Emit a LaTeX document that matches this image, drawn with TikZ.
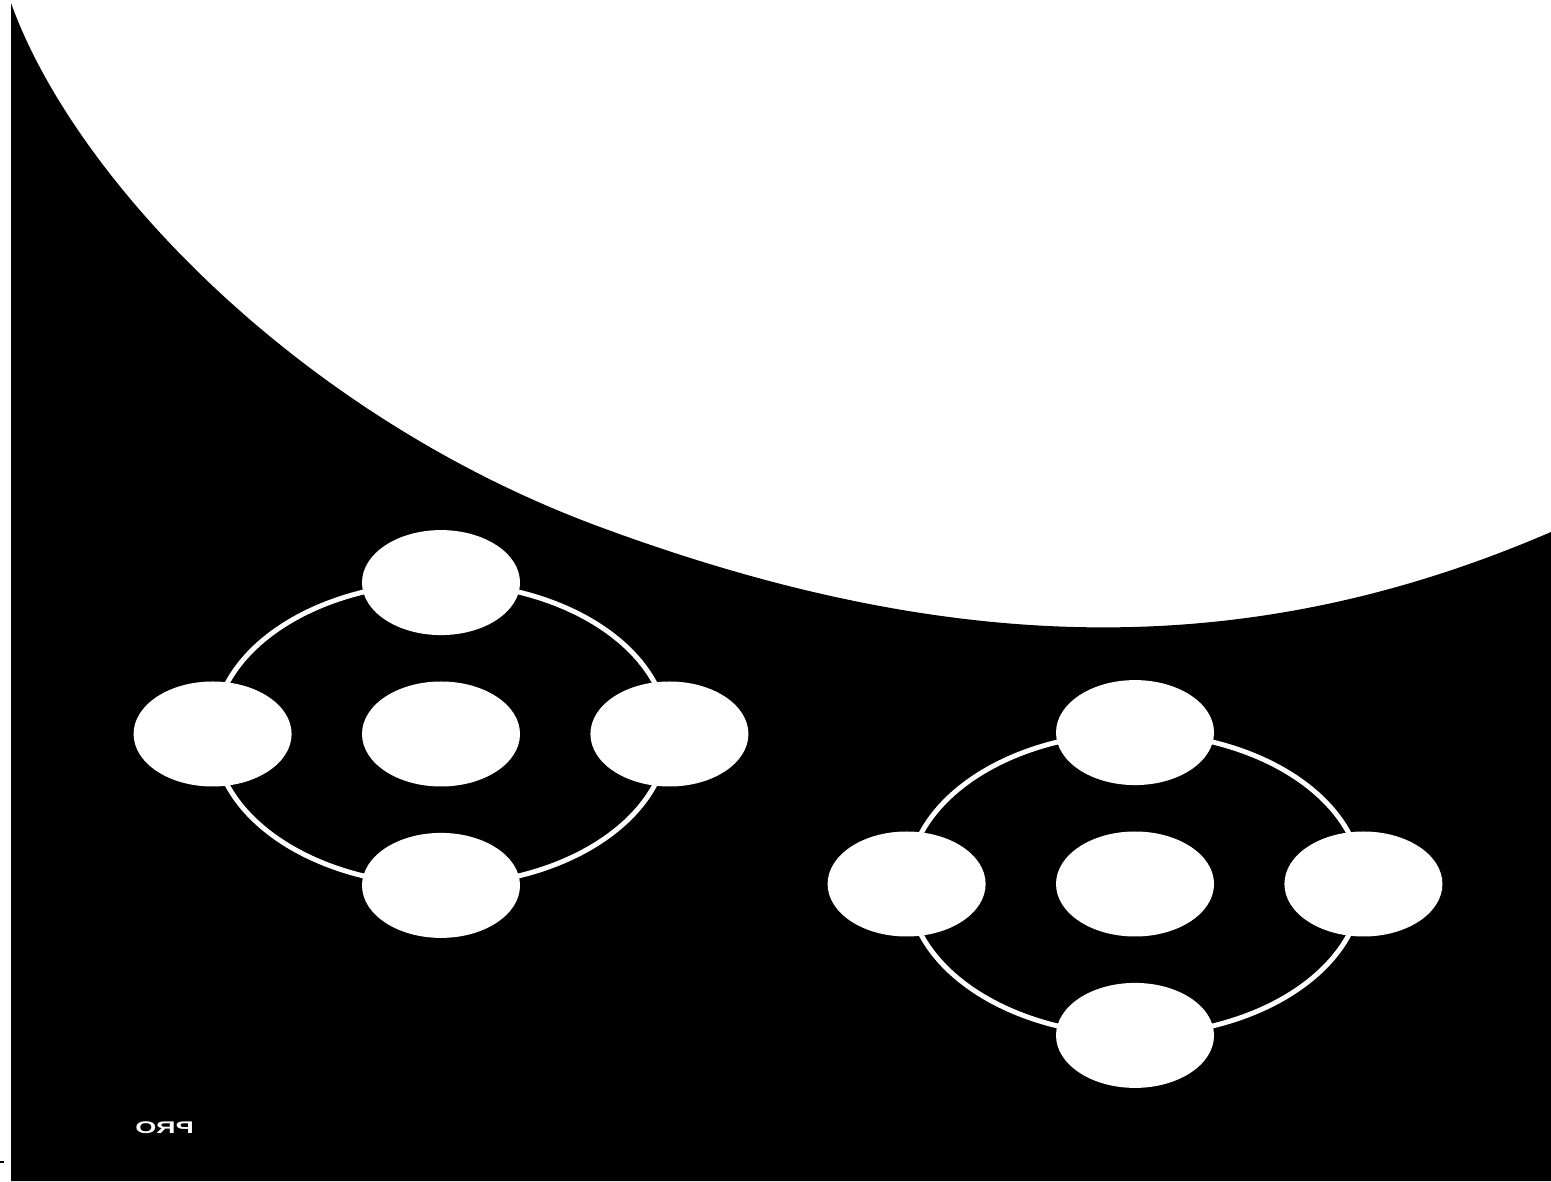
\documentclass[tikz,border=0pt]{standalone}
\usepackage{fontspec}
\newfontfamily\badgefont{Liberation Sans}
\usetikzlibrary{shapes,positioning}

\begin{document}
\begin{tikzpicture}[
    pod/.style={ellipse,fill=white,minimum width=1.58cm,minimum height=1.05cm,inner sep=0pt},
    ring/.style={draw=white,line width=1.4pt},
    node distance=0.45cm and 0.69cm]
    \useasboundingbox (0,0) rectangle (15.51,11.81);
    % dark backdrop with the curved edge
    \fill[black] (0.11,0) -- (0.11,11.78)
        .. controls (0.74,10.02) and (2.99,7.65) .. (6.00,6.54)
        .. controls (9.57,5.22) and (12.52,5.20) .. (15.51,6.49)
        -- (15.51,0) -- cycle;
    \draw[black,line width=0.3pt] (0,0.19) -- (0.04,0.19);
    % left group
    \node[pod] (lc) at (4.41,4.47) {};
    \draw[ring] (lc.center) ellipse [x radius=2.27cm,y radius=1.51cm];
    \node[pod,above=of lc] (lt) {};
    \node[pod,below=of lc] (lb) {};
    \node[pod,left=of lc] (ll) {};
    \node[pod,right=of lc] (lr) {};
    % right group
    \node[pod] (rc) at (11.35,2.97) {};
    \draw[ring] (rc.center) ellipse [x radius=2.27cm,y radius=1.51cm];
    \node[pod,above=of rc] (rt) {};
    \node[pod,below=of rc] (rb) {};
    \node[pod,left=of rc] (rl) {};
    \node[pod,right=of rc] (rr) {};
    \node[text=white,font=\badgefont\fontsize{4.8}{5}\selectfont\bfseries,inner sep=0pt] (badge) at (1.645,0.535) {\scalebox{-1.6}[1]{PRO}};
\end{tikzpicture}
\end{document}
